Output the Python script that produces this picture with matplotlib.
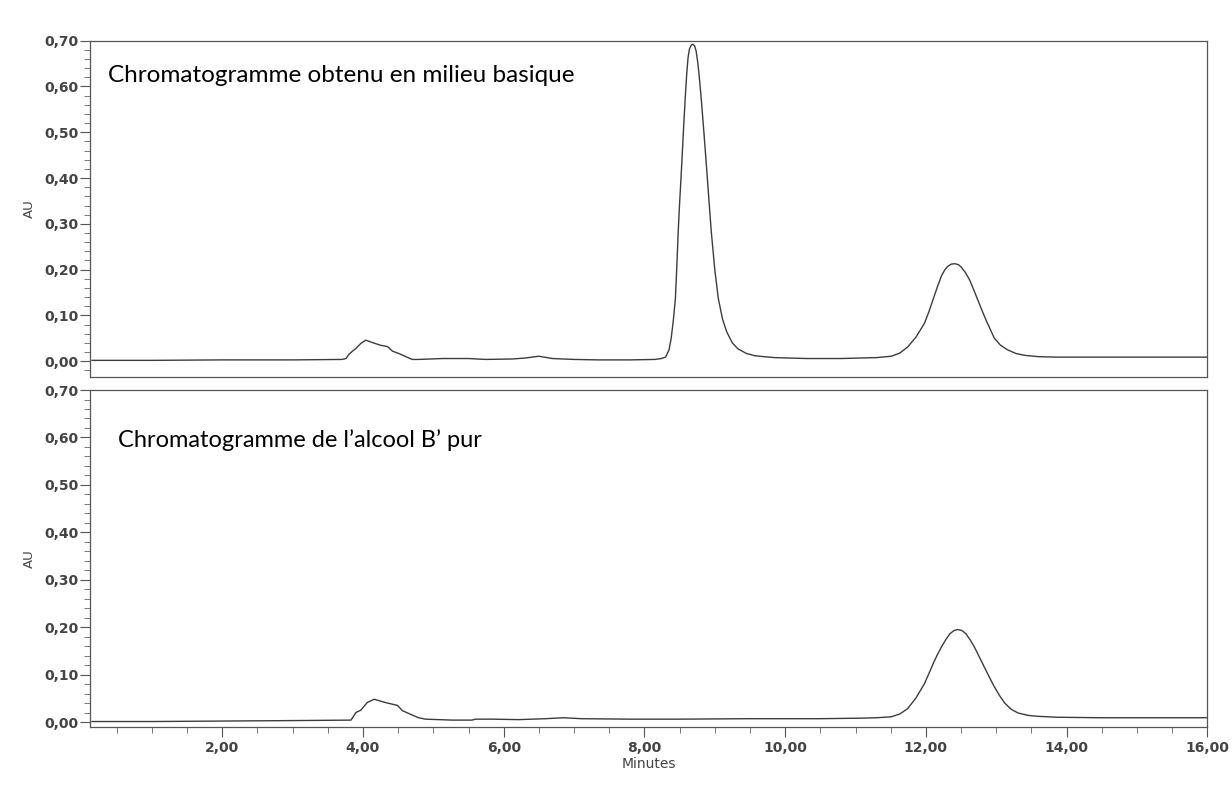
import matplotlib.pyplot as plt
from matplotlib.ticker import MultipleLocator, FuncFormatter

# Chromatogram obtained in basic medium
t_basique = [0.15, 1.0, 2.0, 3.0, 3.70, 3.76, 3.80, 3.85, 3.90, 3.97, 4.04, 4.13,
             4.25, 4.35, 4.42, 4.51, 4.61, 4.70, 4.79, 5.13, 5.50, 5.74, 6.12,
             6.30, 6.50, 6.69, 7.00, 7.35, 7.80, 8.15, 8.24, 8.30, 8.35, 8.38,
             8.41, 8.44, 8.46, 8.48, 8.50, 8.53, 8.555, 8.58, 8.60, 8.62, 8.64,
             8.665, 8.69, 8.715, 8.735, 8.76, 8.785, 8.81, 8.845, 8.88, 8.915,
             8.95, 9.00, 9.05, 9.11, 9.17, 9.25, 9.33, 9.45, 9.57, 9.70, 9.85,
             10.3, 10.8, 11.04, 11.30, 11.51, 11.63, 11.74, 11.86, 11.98, 12.04,
             12.10, 12.16, 12.22, 12.27, 12.31, 12.36, 12.41, 12.46, 12.50,
             12.56, 12.62, 12.68, 12.74, 12.80, 12.86, 12.92, 12.97, 13.06,
             13.16, 13.28, 13.40, 13.60, 13.87, 14.5, 15.2, 16.0]
au_basique = [0.002, 0.002, 0.003, 0.003, 0.004, 0.006, 0.015, 0.022, 0.028,
              0.039, 0.046, 0.041, 0.035, 0.032, 0.022, 0.017, 0.010, 0.004,
              0.004, 0.006, 0.006, 0.004, 0.005, 0.007, 0.011, 0.006, 0.004,
              0.003, 0.003, 0.004, 0.006, 0.009, 0.025, 0.050, 0.088, 0.137,
              0.205, 0.283, 0.345, 0.429, 0.505, 0.575, 0.625, 0.663, 0.682,
              0.690, 0.692, 0.688, 0.677, 0.650, 0.612, 0.568, 0.500, 0.429,
              0.355, 0.283, 0.200, 0.137, 0.092, 0.064, 0.040, 0.027, 0.017,
              0.012, 0.010, 0.008, 0.006, 0.006, 0.007, 0.008, 0.011, 0.018,
              0.031, 0.053, 0.083, 0.107, 0.134, 0.161, 0.186, 0.200, 0.207,
              0.212, 0.213, 0.211, 0.206, 0.194, 0.178, 0.156, 0.133, 0.110,
              0.088, 0.068, 0.051, 0.035, 0.025, 0.017, 0.013, 0.010, 0.009,
              0.009, 0.009, 0.009]

# Chromatogram of pure alcohol B'
t_alcool = [0.15, 1.0, 2.0, 3.0, 3.83, 3.90, 3.97, 4.06, 4.16, 4.32, 4.49, 4.56,
            4.68, 4.79, 4.89, 5.27, 5.55, 5.60, 5.84, 6.21, 6.60, 6.85, 7.10,
            7.80, 8.50, 9.50, 10.5, 11.04, 11.30, 11.51, 11.63, 11.74, 11.86,
            11.98, 12.04, 12.10, 12.16, 12.22, 12.28, 12.34, 12.40, 12.45,
            12.51, 12.57, 12.63, 12.69, 12.76, 12.83, 12.90, 12.97, 13.05,
            13.12, 13.21, 13.31, 13.45, 13.59, 13.87, 14.5, 15.2, 16.0]
au_alcool = [0.001, 0.001, 0.002, 0.003, 0.004, 0.020, 0.025, 0.041, 0.048,
             0.041, 0.035, 0.024, 0.016, 0.009, 0.006, 0.004, 0.004, 0.006,
             0.006, 0.005, 0.007, 0.009, 0.007, 0.006, 0.006, 0.007, 0.007,
             0.008, 0.009, 0.011, 0.017, 0.028, 0.051, 0.081, 0.101, 0.122,
             0.141, 0.158, 0.173, 0.186, 0.193, 0.195, 0.193, 0.186, 0.173,
             0.158, 0.137, 0.116, 0.095, 0.075, 0.055, 0.040, 0.027, 0.019,
             0.014, 0.012, 0.010, 0.009, 0.009, 0.009]

y_ticks = [0.0, 0.1, 0.2, 0.3, 0.4, 0.5, 0.6, 0.7]
x_ticks = [2, 4, 6, 8, 10, 12, 14, 16]

line_col = '#3c3c3c'
txt_col = '#444444'

fig = plt.figure(figsize=(12.32, 7.96), dpi=100)
ax1 = fig.add_axes([0.073, 0.526, 0.907, 0.423])
ax2 = fig.add_axes([0.073, 0.087, 0.907, 0.423])

comma = FuncFormatter(lambda v, p: ('%.2f' % v).replace('.', ','))

for ax, t, au, ymin in [(ax1, t_basique, au_basique, -0.035),
                        (ax2, t_alcool, au_alcool, -0.01)]:
    ax.plot(t, au, color=line_col, lw=1.0)
    ax.set_xlim(0.12, 16.0)
    ax.set_ylim(ymin, 0.70)
    ax.set_yticks(y_ticks)
    ax.yaxis.set_minor_locator(MultipleLocator(0.02))
    ax.yaxis.set_major_formatter(comma)
    ax.tick_params(axis='y', which='major', length=7, width=0.8, color='#555555',
                   labelsize=10, labelcolor=txt_col, pad=1)
    ax.tick_params(axis='y', which='minor', length=4, width=0.7, color='#777777')
    for s in ax.spines.values():
        s.set_color('#555555')
        s.set_linewidth(0.9)
    ax.set_ylabel('AU', fontsize=9.5, color=txt_col, labelpad=6)

# top panel: no x ticks
ax1.set_xticks([])

ax2.set_xticks(x_ticks)
ax2.xaxis.set_minor_locator(MultipleLocator(0.5))
ax2.xaxis.set_major_formatter(comma)
ax2.tick_params(axis='x', which='major', length=7, width=0.8, color='#555555',
                labelsize=10, labelcolor=txt_col, pad=3)
ax2.tick_params(axis='x', which='minor', length=4, width=0.7, color='#777777')
ax2.set_xlabel('Minutes', fontsize=10, color=txt_col, labelpad=2)

for lab in ax1.get_yticklabels() + ax2.get_yticklabels() + ax2.get_xticklabels():
    lab.set_family(['DejaVu Sans'])
    lab.set_fontweight('bold')

ax1.text(0.016, 0.895, 'Chromatogramme obtenu en milieu basique',
         transform=ax1.transAxes, fontsize=17.5, family=['Lato', 'DejaVu Sans'],
         va='center', ha='left', color='black')
ax2.text(0.025, 0.852, 'Chromatogramme de l\u2019alcool B\u2019 pur',
         transform=ax2.transAxes, fontsize=17, family=['Lato', 'DejaVu Sans'],
         va='center', ha='left', color='black')

fig.savefig('out.png', dpi=100, facecolor='white')
